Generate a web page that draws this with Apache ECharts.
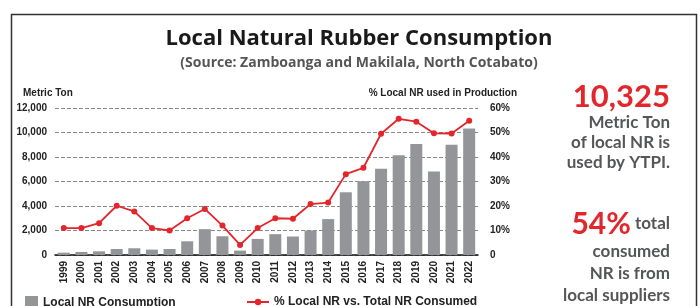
<!DOCTYPE html>
<html>
<head>
<meta charset="utf-8">
<script src="https://cdn.jsdelivr.net/npm/echarts@6/dist/echarts.min.js"></script>
<style>
  html, body { margin: 0; padding: 0; background: #fff; }
  #chart { width: 700px; height: 306px; }
</style>
</head>
<body>
<div id="chart"></div>
<script>
// values
var years = ["1999", "2000", "2001", "2002", "2003", "2004", "2005", "2006", "2007", "2008", "2009", "2010",
  "2011", "2012", "2013", "2014", "2015", "2016", "2017", "2018", "2019", "2020", "2021", "2022"];
var consumption = [190, 250, 300, 490, 550, 440, 490, 1120, 2110, 1530, 360, 1315,
  1700, 1510, 2000, 2930, 5120, 6030, 7040, 8140, 9070, 6820, 8990, 10325];
var percentLocal = [11, 11, 13, 20.1, 17.8, 11, 10, 15, 18.8, 12, 4.1, 11,
  15, 14.8, 20.8, 21.4, 33, 35.6, 49.5, 55.6, 54.4, 49.7, 49.6, 54.8];

var chart = echarts.init(document.getElementById("chart"));
var grey = "#555658";
var sideFont = "Lato, 'Open Sans', sans-serif";

chart.setOption({
  animation: false,
  textStyle: { fontFamily: "'Liberation Sans', Arial, sans-serif" },
  title: [
    {
      text: "Local Natural Rubber Consumption",
      left: 354, top: 23, textAlign: "center",
      textStyle: { fontFamily: "'Open Sans', sans-serif", fontSize: 22, fontWeight: "bold", color: "#1a1a1a" }
    },
    {
      text: "(Source: Zamboanga and Makilala, North Cotabato)",
      left: 354, top: 51, textAlign: "center",
      textStyle: { fontFamily: "'Open Sans', sans-serif", fontSize: 14, fontWeight: "bold", color: "#555" }
    },
    {
      text: "Metric Ton", left: 18, top: 83,
      textStyle: { fontSize: 10, fontWeight: "bold", color: "#222" }
    },
    {
      text: "% Local NR used in Production", left: 512, top: 83, textAlign: "right",
      textStyle: { fontSize: 10, fontWeight: "bold", color: "#222" }
    },
    {
      text: "10,325", left: 665, top: 76, textAlign: "right",
      textStyle: { fontFamily: sideFont, fontSize: 31, fontWeight: "bold", color: "#e3262b" }
    },
    {
      text: "Metric Ton\nof local NR is\nused by YTPI.", left: 665, top: 108, textAlign: "right",
      textStyle: { fontFamily: sideFont, fontSize: 17, fontWeight: "bold", color: grey, lineHeight: 20, align: "right" }
    },
    {
      text: "{big|54%}{small| total}", left: 665, top: 204, textAlign: "right",
      textStyle: {
        rich: {
          big: { fontFamily: sideFont, fontSize: 30, fontWeight: "bold", color: "#e3262b" },
          small: { fontFamily: sideFont, fontSize: 17, fontWeight: "bold", color: grey }
        }
      }
    },
    {
      text: "consumed\nNR is from\nlocal suppliers", left: 665, top: 236, textAlign: "right",
      textStyle: { fontFamily: sideFont, fontSize: 17, fontWeight: "bold", color: grey, lineHeight: 22, align: "right" }
    }
  ],
  graphic: [
    {
      type: "rect", left: 9, top: 12,
      shape: { width: 685, height: 310 },
      style: { fill: null, stroke: "#333", lineWidth: 1.5 }
    }
  ],
  legend: [
    {
      data: [{ name: "Local NR Consumption", icon: "rect" }],
      left: 20, top: 291, itemWidth: 13, itemHeight: 13, itemGap: 6,
      textStyle: { fontSize: 12, fontWeight: "bold", color: "#222" }
    },
    {
      data: ["% Local NR vs. Total NR Consumed"],
      left: 241, top: 291, itemWidth: 22, itemHeight: 8, itemGap: 4,
      textStyle: { fontSize: 12, fontWeight: "bold", color: "#222" }
    }
  ],
  grid: { left: 55, right: 222, top: 108, bottom: 51 },
  xAxis: {
    type: "category",
    data: years,
    axisLine: { lineStyle: { color: "#111", width: 1.5 } },
    axisTick: { show: false },
    axisLabel: { rotate: 90, fontSize: 10, fontWeight: "bold", color: "#222", margin: 6, interval: 0 }
  },
  yAxis: [
    {
      type: "value", min: 0, max: 12000, interval: 2000,
      axisLine: { show: false }, axisTick: { show: false },
      axisLabel: {
        fontSize: 10, fontWeight: "bold", color: "#222", margin: 8,
        formatter: function (v) { return v.toLocaleString("en-US"); }
      },
      splitLine: { lineStyle: { color: "#888", type: [4, 2], width: 1 } }
    },
    {
      type: "value", min: 0, max: 60, interval: 10,
      axisLine: { show: false }, axisTick: { show: false },
      axisLabel: {
        fontSize: 10, fontWeight: "bold", color: "#222", margin: 12,
        formatter: function (v) { return v === 0 ? "0" : v + "%"; }
      },
      splitLine: { show: false }
    }
  ],
  series: [
    {
      name: "Local NR Consumption",
      type: "bar",
      data: consumption,
      barWidth: 12,
      itemStyle: { color: "#939598" }
    },
    {
      name: "% Local NR vs. Total NR Consumed",
      type: "line",
      yAxisIndex: 1,
      data: percentLocal,
      symbol: "circle",
      symbolSize: 6,
      lineStyle: { color: "#e3262b", width: 1.8 },
      itemStyle: { color: "#e3262b" }
    }
  ]
});
</script>
</body>
</html>
